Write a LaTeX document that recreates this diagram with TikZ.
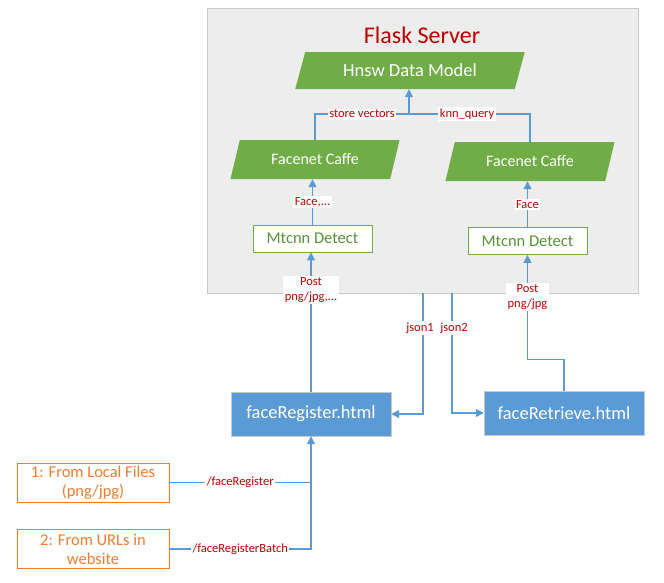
\documentclass[tikz,border=0pt]{standalone}
\usepackage{fontspec}
\setmainfont{Carlito}
\usetikzlibrary{positioning,arrows.meta,calc,shapes.geometric}

\definecolor{srvgray}{HTML}{EDEDED}
\definecolor{srvline}{HTML}{C9C9C9}
\definecolor{lgreen}{HTML}{70AD47}
\definecolor{dgreen}{HTML}{5A9338}
\definecolor{lblue}{HTML}{5B9BD5}
\definecolor{lorange}{HTML}{ED7D31}
\definecolor{dred}{HTML}{C00000}

\begin{document}
\begin{tikzpicture}[
  x=1pt, y=-1pt,
  para/.style={trapezium, trapezium left angle=64, trapezium right angle=116,
    trapezium stretches=true, fill=lgreen, draw=none, text=white, inner sep=0pt},
  detect/.style={draw=lgreen, thick, fill=white, text=dgreen, font=\fontsize{16.5}{18}\selectfont,
    minimum width=119pt, minimum height=27pt, inner sep=0pt},
  page/.style={fill=lblue, draw=srvline, text=white, font=\fontsize{18.5}{20}\selectfont,
    minimum width=160pt, minimum height=44pt, inner sep=0pt},
  source/.style={draw=lorange, thick, fill=white, text=lorange, align=center,
    font=\fontsize{16.5}{19}\selectfont, minimum width=152pt, minimum height=39pt, inner sep=0pt},
  line/.style={lblue, line width=1.3pt},
  arr/.style={line, -{Triangle[length=8pt, width=8pt]}},
  lbl/.style={fill=white, text=dred, font=\fontsize{12.5}{15}\selectfont, inner sep=1.5pt, align=center}
]
\useasboundingbox (0,0) rectangle (664,582);

% server frame
\node[fill=srvgray, draw=srvline, line width=1pt, minimum width=431pt, minimum height=285pt,
  inner sep=0pt] (server) at (422.5,150.5) {};
\node[text=dred, font=\fontsize{24}{26}\selectfont] (title) at (422,35) {Flask Server};

% nodes
\node[para, minimum width=230pt, minimum height=37pt, font=\fontsize{18.5}{20}\selectfont]
  (hnsw) at (410,70.5) {Hnsw Data Model};
\node[para, minimum width=170pt, minimum height=39pt, font=\fontsize{16}{18}\selectfont]
  (fcL) at (315,159.5) {Facenet Caffe};
\node[para, minimum width=170pt, minimum height=39pt, font=\fontsize{16}{18}\selectfont]
  (fcR) at (530,161.5) {Facenet Caffe};
\node[detect] (mtL) at (312.5,238.5) {Mtcnn Detect};
\node[detect] (mtR) at (527.5,241) {Mtcnn Detect};

\node[page] (reg) at (311,414) {faceRegister.html};
\node[page] (ret) at (564,413) {faceRetrieve.html};

\node[source] (src1) at (93,482.5) {1: From Local Files\\(png/jpg)};
\node[source] (src2) at (93,549) {2: From URLs in\\website};

% connectors inside the server
\coordinate (merge) at (409,114);
\draw[arr] (merge) -- (hnsw.south -| merge);
\draw[line] (fcL.north) |- node[lbl, pos=0.75] {store vectors} (merge);
\draw[line] (fcR.north) |- node[lbl, pos=0.76] {knn\_query} (merge);
\draw[arr] (mtL.north) -- node[lbl] {Face,...} (mtL.north |- fcL.south);
\draw[arr] (mtR.north) -- node[lbl] {Face} (mtR.north |- fcR.south);

% requests from the pages
\draw[arr] (reg.north) -- node[lbl, pos=0.73] {Post\\png/jpg,...} (reg.north |- mtL.south);
\draw[arr] (ret.north) -- ++(0,-31) -| node[lbl, pos=0.8] {Post\\png/jpg} (mtR.south);

% answers
\coordinate (j1) at (423,293);
\coordinate (j2) at (452,293);
\draw[arr] (j1) |- node[lbl, pos=0.145, inner xsep=1pt, xshift=-3pt] {json1} (reg.east);
\draw[arr] (j2) |- node[lbl, pos=0.145, inner xsep=1pt, xshift=2pt] {json2} (ret.west);

% sources
\draw[line] (src1.east) -- node[lbl] {/faceRegister} (src1.east -| reg.south);
\draw[arr] (src2.east) -| node[lbl, pos=0.25] {/faceRegisterBatch} (reg.south);

\end{tikzpicture}
\end{document}
